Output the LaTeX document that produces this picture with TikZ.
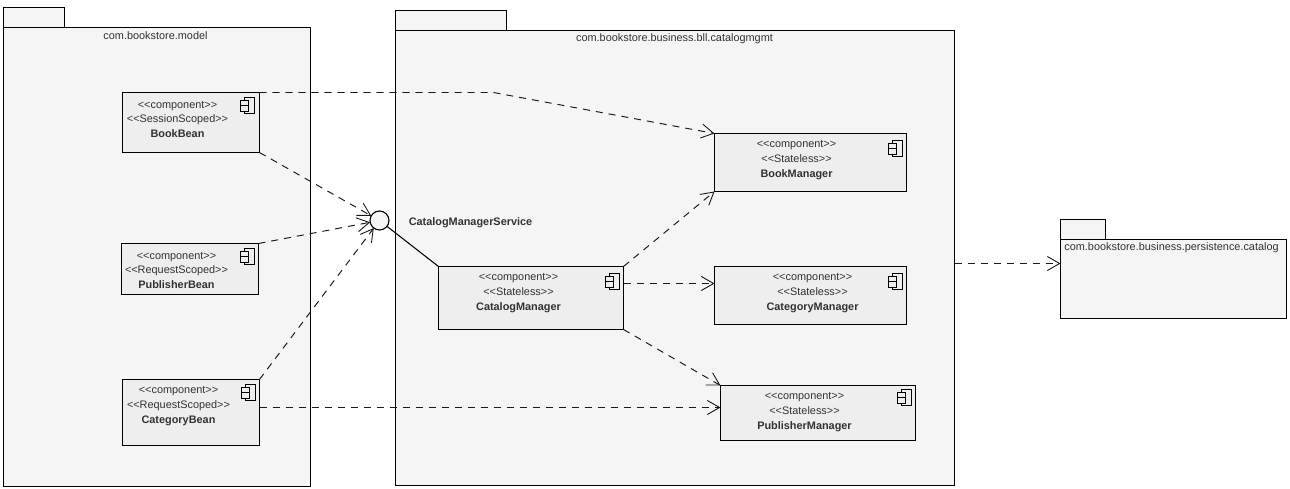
\documentclass[tikz,border=0pt]{standalone}
\usepackage{fontspec}
\newfontfamily\umlfont{Liberation Sans}
\usetikzlibrary{positioning, arrows.meta}

\definecolor{packfill}{RGB}{245,245,245}
\definecolor{compfill}{RGB}{238,238,238}
\definecolor{labelgray}{RGB}{50,50,50}

% component icon, (#1,#2) is the top left of its tabs
\newcommand{\compicon}[2]{%
    \draw[iconline] (#1+4,#2) rectangle (#1+14,#2+16);
    \draw[iconline,fill=compfill] (#1,#2+3) rectangle (#1+8,#2+8);
    \draw[iconline,fill=compfill] (#1,#2+8) rectangle (#1+8,#2+14);
}

\tikzset{
    package/.style={draw,fill=packfill,line width=0.65pt,anchor=north west,inner sep=0pt,outer sep=0pt},
    compbox/.style={draw,fill=compfill,line width=0.65pt,anchor=north west,inner sep=0pt,outer sep=0pt},
    complabel/.style={align=center,text=labelgray,font=\umlfont\fontsize{6.2}{8.5}\selectfont},
    packlabel/.style={text=labelgray,font=\umlfont\fontsize{6.2}{8.5}\selectfont},
    iconline/.style={line width=0.5pt},
    depend/.style={dash pattern=on 4pt off 3.4pt,line width=0.55pt,draw=black!90,-{Straight Barb[length=7pt,width=8pt,line width=0.5pt]}},
}

\begin{document}
\begin{tikzpicture}[x=0.02cm,y=-0.02cm]
    \useasboundingbox (-0.5,-0.5) rectangle (1289.5,488.5);

    % ======================
    % Packages
    % ======================
    % model
    \node[package,minimum width=1.22cm,minimum height=0.4cm] (modeltab) at (3,7) {};
    \node[package,minimum width=6.14cm,minimum height=9.18cm] (model) at (3,27) {};
    \node[packlabel] (modellabel) at (155,35) {com.bookstore.model};

    % catalogmgmt
    \node[package,minimum width=2.22cm,minimum height=0.4cm] (catalogtab) at (395,10) {};
    \node[package,minimum width=11.18cm,minimum height=9.1cm] (catalogmgmt) at (395,30) {};
    \node[packlabel] (cataloglabel) at (674,38) {com.bookstore.business.bll.catalogmgmt};

    % persistence
    \node[package,minimum width=0.9cm,minimum height=0.4cm] (persisttab) at (1060,219) {};
    \node[package,minimum width=4.52cm,minimum height=1.58cm] (persistence) at (1060,239) {};
    \node[packlabel] (persistlabel) at (1171,247) {com.bookstore.business.persistence.catalog};

    % ======================
    % Beans
    % ======================
    \node[compbox,minimum width=2.74cm,minimum height=1.2cm] (bookbean) at (122,92) {};
    \node[complabel] (bookbeanlabel) at (177,119) {<<component>>\\<<SessionScoped>>\\\textbf{BookBean}};
    \compicon{240}{97}

    \node[compbox,minimum width=2.74cm,minimum height=1.02cm] (publisherbean) at (121,243) {};
    \node[complabel] (publisherbeanlabel) at (176,270) {<<component>>\\<<RequestScoped>>\\\textbf{PublisherBean}};
    \compicon{240}{248}

    \node[compbox,minimum width=2.74cm,minimum height=1.32cm] (categorybean) at (122,379) {};
    \node[complabel] (categorybeanlabel) at (178,406) {<<component>>\\<<RequestScoped>>\\\textbf{CategoryBean}};
    \compicon{241}{384}

    % ======================
    % Managers
    % ======================
    \node[compbox,minimum width=3.7cm,minimum height=1.26cm] (catalogmanager) at (438,266) {};
    \node[complabel] (catalogmanagerlabel) at (518,293) {<<component>>\\<<Stateless>>\\\textbf{CatalogManager}};
    \compicon{605}{273}

    \node[compbox,minimum width=3.84cm,minimum height=1.16cm] (bookmanager) at (714,133) {};
    \node[complabel] (bookmanagerlabel) at (796,160) {<<component>>\\<<Stateless>>\\\textbf{BookManager}};
    \compicon{888}{140}

    \node[compbox,minimum width=3.84cm,minimum height=1.16cm] (categorymanager) at (714,266) {};
    \node[complabel] (categorymanagerlabel) at (812,293) {<<component>>\\<<Stateless>>\\\textbf{CategoryManager}};
    \compicon{888}{273}

    \node[compbox,minimum width=3.9cm,minimum height=1.1cm] (publishermanager) at (720,385) {};
    \node[complabel] (publishermanagerlabel) at (804,412) {<<component>>\\<<Stateless>>\\\textbf{PublisherManager}};
    \compicon{897}{389}

    % ======================
    % Interface
    % ======================
    \node[draw,circle,fill=packfill,line width=0.65pt,minimum size=0.38cm,inner sep=0pt,outer sep=0pt] (service) at (379,220) {};
    \node[packlabel,font=\umlfont\fontsize{6.2}{8.5}\selectfont\bfseries] (servicelabel) at (470,222) {CatalogManagerService};

    % ======================
    % Connectors
    % ======================
    \coordinate (bend) at (493,92);
    \coordinate (catbeanout) at (259,407);
    \coordinate (pubmanin) at (720,407);
    \coordinate (catmanout) at (623,283);
    \coordinate (catmanin) at (714,283);
    \coordinate (packout) at (954,263);
    \coordinate (packin) at (1060,263);

    \draw[depend] (bookbean.north east) -- (bend) -- (bookmanager.north west);
    \draw[depend] (bookbean.south east) -- (service);
    \draw[depend] (publisherbean.north east) -- (service);
    \draw[depend] (categorybean.north east) -- (service);
    \draw[depend] (catbeanout) -- (pubmanin);
    \draw[line width=0.6pt] (service) -- (catalogmanager.north west);
    \draw[depend] (catalogmanager.north east) -- (bookmanager.south west);
    \draw[depend] (catmanout) -- (catmanin);
    \draw[depend] (catalogmanager.south east) -- (publishermanager.north west);
    \draw[depend] (packout) -- (packin);

\end{tikzpicture}
\end{document}
